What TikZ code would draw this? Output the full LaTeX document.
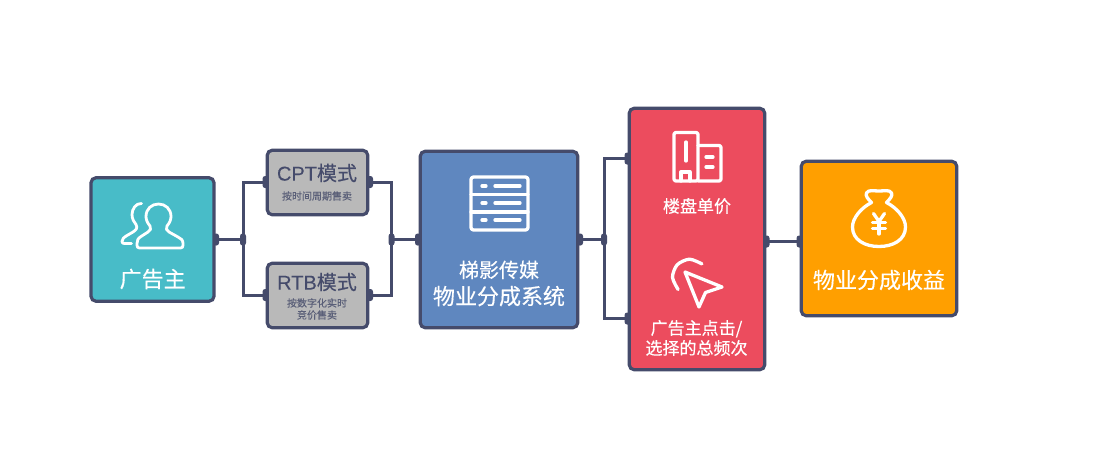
\documentclass[tikz,border=0pt]{standalone}
\usepackage{fontspec}
\setmainfont{Noto Sans CJK SC}[FakeBold=0.35]
\newfontfamily\latinfont{Liberation Sans}[FakeBold=0.25]
\usetikzlibrary{shapes.geometric}
\definecolor{ink}{HTML}{454B6B}
\definecolor{inksoft}{HTML}{5A5F78}
\definecolor{tealbox}{HTML}{48BCC8}
\definecolor{graybox}{HTML}{B9B9B9}
\definecolor{bluebox}{HTML}{5F87BF}
\definecolor{redbox}{HTML}{EC4C5E}
\definecolor{orangebox}{HTML}{FF9F00}
\tikzset{
  x=1pt,y=-1pt,
  card/.style={draw=ink,line width=3.2pt,rounded corners=5pt,inner sep=0pt,outer sep=0pt},
  conn/.style={draw=ink,line width=3pt},
  pin/.style={rectangle,rounded corners=2.6pt,fill=ink,inner sep=0pt,minimum width=6pt,minimum height=12pt},
  glyph/.style={draw=white,line width=3.3pt,line cap=round,line join=round},
  wtext/.style={text=white,align=center,inner sep=0pt},
  dtext/.style={text=ink,align=center,inner sep=0pt}
}
\begin{document}
\begin{tikzpicture}
\useasboundingbox[fill=white] (0,0) rectangle (1104,471);
% boxes
\node[card,fill=tealbox,minimum width=123pt,minimum height=123.5pt] (adv) at (152.5,239.5) {};
\node[card,fill=graybox,minimum width=100.5pt,minimum height=64.5pt] (cpt) at (317.5,182.5) {};
\node[card,fill=graybox,minimum width=100.5pt,minimum height=64.5pt] (rtb) at (317.5,295.5) {};
\node[card,fill=bluebox,minimum width=157.5pt,minimum height=176.5pt] (sys) at (499,239.5) {};
\node[card,fill=redbox,minimum width=135.5pt,minimum height=261.5pt] (price) at (697,239) {};
\node[card,fill=orangebox,minimum width=155.5pt,minimum height=154.5pt] (gain) at (879,238.5) {};
% pins
\node[pin] (p1) at (216,239.5) {};
\node[pin] (j1) at (243,239.5) {};
\node[pin] (p2) at (265.5,182) {};
\node[pin] (p3) at (265.5,295) {};
\node[pin] (p4) at (370,182) {};
\node[pin] (p5) at (370,295) {};
\node[pin] (j2) at (391.5,239.5) {};
\node[pin] (p6) at (418,239.5) {};
\node[pin] (p7) at (580,239.5) {};
\node[pin] (j3) at (604,239.5) {};
\node[pin] (p8) at (627.5,158.5) {};
\node[pin] (p9) at (627.5,318.5) {};
\node[pin] (p10) at (766.5,241.5) {};
\node[pin] (p11) at (799.5,241.5) {};
% connectors
\draw[conn] (p1.center) -- (j1.center);
\draw[conn] (j1.center) |- (p2.center);
\draw[conn] (j1.center) |- (p3.center);
\draw[conn] (p4.center) -| (j2.center);
\draw[conn] (p5.center) -| (j2.center);
\draw[conn] (j2.center) -- (p6.center);
\draw[conn] (p7.center) -- (j3.center);
\draw[conn] (j3.center) |- (p8.center);
\draw[conn] (j3.center) |- (p9.center);
\draw[conn] (p10.center) -- (p11.center);
% texts
\node[wtext,font=\fontsize{22}{26}\selectfont] (t1) at (152.7,279) {广告主};
\node[dtext,font=\fontsize{20}{24}\selectfont] (t2) at (317,173) {{\latinfont CPT}模式};
\node[dtext,text=inksoft,font=\fontsize{10}{12}\selectfont] (t3) at (317,196) {按时间周期售卖};
\node[dtext,font=\fontsize{20}{24}\selectfont] (t4) at (317,282) {{\latinfont RTB}模式};
\node[dtext,text=inksoft,font=\fontsize{10}{12}\selectfont] (t5) at (317,309) {按数字化实时\\竞价售卖};
\node[wtext,font=\fontsize{20}{27}\selectfont] (t6) at (499,283.5) {梯影传媒\\{\fontsize{22}{27}\selectfont 物业分成系统}};
\node[wtext,font=\fontsize{17}{20}\selectfont] (t7) at (697,206) {楼盘单价};
\node[wtext,font=\fontsize{17}{20}\selectfont] (t8) at (696.5,338) {广告主点击/\\选择的总频次};
\node[wtext,font=\fontsize{22}{26}\selectfont] (t9) at (879,280) {物业分成收益};
% person icon
\draw[glyph,line width=2.8pt] (139.5,248) -- (180.5,248) .. controls (182.5,248) and (183,247) .. (183,245) -- (183,243.5)
  .. controls (183,240) and (181,238.5) .. (178,237) -- (169,232) .. controls (166.5,230.5) and (165.5,228.5) .. (167,226)
  .. controls (170,222.5) and (171,219) .. (171,216.5) .. controls (171,209) and (165.5,204) .. (158.5,204)
  .. controls (151.5,204) and (146,209) .. (146,216.5) .. controls (146,219) and (147,222.5) .. (150,226)
  .. controls (151.5,228.5) and (150.5,230.5) .. (148,232) -- (141,236.5) .. controls (138,238.5) and (137,240) .. (137,243.5)
  -- (137,245) .. controls (137,247) and (137.5,248) .. (139.5,248) -- cycle;
\draw[glyph,line width=2.8pt] (141.5,203.5) .. controls (136,203) and (132,209) .. (132,214.5)
  .. controls (132,219) and (134,222) .. (136,224.5) .. controls (138,228) and (136,230) .. (133,232)
  -- (127,235.5) .. controls (123.5,237.5) and (122,239.5) .. (122,241.5) .. controls (122,243) and (123,243.5) .. (124.5,243.5)
  -- (131.5,243.5) ;
% table icon
\draw[glyph,rounded corners=2.5pt] (471,177) rectangle (528,230);
\draw[glyph] (471,194.5) -- (528,194.5);
\draw[glyph] (471,212) -- (528,212);
\foreach \yy in {186,203,220}{
  \draw[glyph] (482,\yy) -- (486,\yy);
  \draw[glyph] (495,\yy) -- (520,\yy);
}
% building icon
\draw[glyph,rounded corners=2pt] (698,181) -- (674,181) -- (674,132.5) -- (698,132.5) -- cycle;
\draw[glyph,rounded corners=2pt] (698,145.5) -- (721,145.5) -- (721,181) -- (698,181);
\draw[glyph] (686,142) -- (686,161);
\draw[glyph] (681,181) -- (681,172) -- (690,172) -- (690,181);
\draw[glyph] (706,157) -- (713,157);
\draw[glyph] (706,167) -- (713,167);
% cursor icon
\draw[glyph] (685,272) -- (722,287) -- (705.5,292.5) -- (699,307) -- cycle;
\draw[glyph] plot[smooth] coordinates {(701.9,263.9) (689.4,259.2) (677.2,264.8) (672.5,277.3) (678.1,289.5)};
% money bag icon
\draw[glyph] (871.5,202.5) .. controls (868,199) and (865,195.5) .. (866.5,193)
  .. controls (868.5,189.5) and (873,191) .. (879,191) .. controls (885,191) and (889.5,189.5) .. (891.5,193)
  .. controls (893,195.5) and (890,199) .. (886.5,202.5)
  .. controls (897,208) and (905.5,218) .. (905.5,227) .. controls (905.5,240) and (893,246.5) .. (879,246.5)
  .. controls (865,246.5) and (852.5,240) .. (852.5,227) .. controls (852.5,218) and (861,208) .. (871.5,202.5) -- cycle;
\draw[glyph] (873.5,213.5) -- (879,221.5) -- (884.5,213.5);
\draw[glyph] (872.5,222.5) -- (885.5,222.5);
\draw[glyph] (872.5,228.5) -- (885.5,228.5);
\draw[glyph] (879,221.5) -- (879,234);
\end{tikzpicture}
\end{document}
